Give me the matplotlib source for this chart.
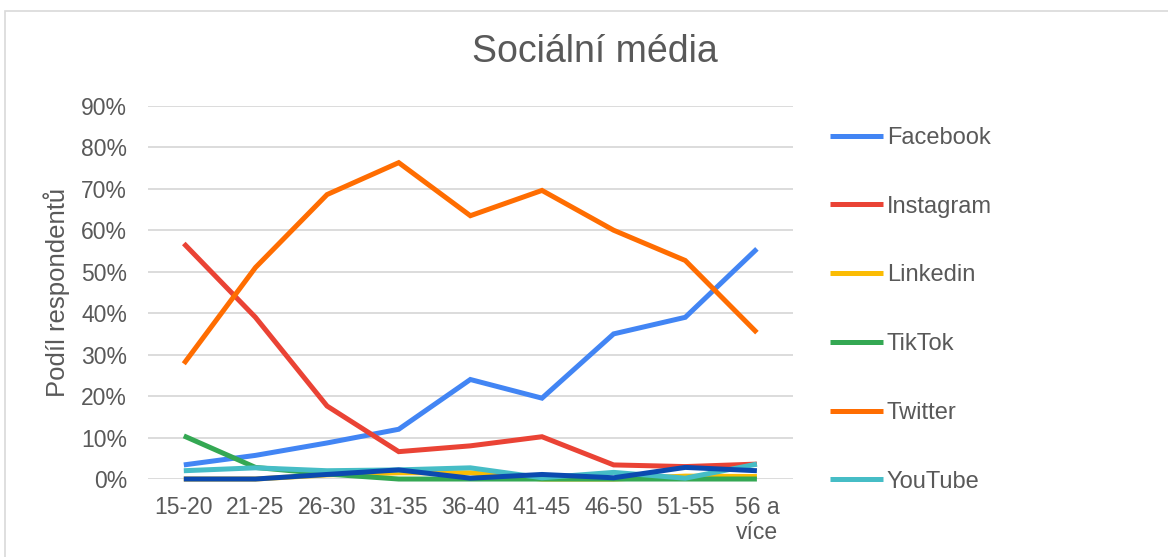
import matplotlib
matplotlib.use("Agg")
import matplotlib.pyplot as plt
from matplotlib.ticker import PercentFormatter
from matplotlib.patches import Rectangle

plt.rcParams['font.family'] = ['Liberation Sans', 'DejaVu Sans']

# age groups
categories = ["15-20", "21-25", "26-30", "31-35", "36-40", "41-45", "46-50", "51-55", "56 a\nvíce"]

# share of respondents (0..1)
facebook  = [0.034, 0.057, 0.087, 0.120, 0.240, 0.195, 0.350, 0.390, 0.555]
instagram = [0.568, 0.390, 0.176, 0.066, 0.080, 0.102, 0.034, 0.030, 0.036]
linkedin  = [0.000, 0.000, 0.010, 0.015, 0.015, 0.000, 0.000, 0.007, 0.006]
tiktok    = [0.104, 0.028, 0.012, 0.000, 0.000, 0.000, 0.000, 0.000, 0.000]
twitter   = [0.278, 0.510, 0.686, 0.763, 0.635, 0.696, 0.600, 0.527, 0.353]
youtube   = [0.020, 0.027, 0.020, 0.022, 0.027, 0.003, 0.016, 0.002, 0.036]
other     = [0.000, 0.000, 0.011, 0.022, 0.002, 0.011, 0.003, 0.028, 0.020]

series = [
    ("Facebook", facebook, "#4285F4"),
    ("Instagram", instagram, "#EA4335"),
    ("Linkedin", linkedin, "#FBBC04"),
    ("TikTok", tiktok, "#34A853"),
    ("Twitter", twitter, "#FF6D01"),
    ("YouTube", youtube, "#46BDC6"),
    ("_nolegend_", other, "#0B4AB0"),
]

txt = "#595959"

fig = plt.figure(figsize=(11.68, 5.57), dpi=100)
fig.patches.append(Rectangle((0.004, -0.1), 1.2, 1.08, transform=fig.transFigure,
                             fill=False, edgecolor="#d9d9d9", linewidth=1.2))
ax = fig.add_axes([0.1267, 0.140, 0.552, 0.670])

x = list(range(len(categories)))
for name, vals, col in series:
    ax.plot(x, vals, color=col, linewidth=3.6, label=name, clip_on=False,
            solid_joinstyle="miter", solid_capstyle="butt")

ax.set_xlim(-0.5, len(categories) - 0.5)
ax.set_ylim(0, 0.9)
ax.set_yticks([i / 10 for i in range(10)])
ax.yaxis.set_major_formatter(PercentFormatter(1.0, decimals=0))
ax.set_xticks(x)
ax.set_xticklabels(categories, linespacing=1.15)
ax.grid(axis="y", color="#d9d9d9", linewidth=1.3)
ax.set_axisbelow(True)
for s in ax.spines.values():
    s.set_visible(False)
ax.tick_params(length=0, labelsize=16.5, colors=txt)
ax.tick_params(axis="y", pad=15)
ax.tick_params(axis="x", pad=12)
ax.set_ylabel("Podíl respondentů", fontsize=18.5, color=txt, labelpad=8)

fig.text(0.509, 0.907, "Sociální média", ha="center", va="center", fontsize=27, color=txt)

leg = ax.legend(loc="upper left", bbox_to_anchor=(0.7025, 0.789), bbox_transform=fig.transFigure,
                frameon=False, fontsize=17, handlelength=2.25, handletextpad=0.15,
                labelspacing=1.98, borderaxespad=0)
for t in leg.get_texts():
    t.set_color(txt)

fig.savefig("out.png", dpi=100)
